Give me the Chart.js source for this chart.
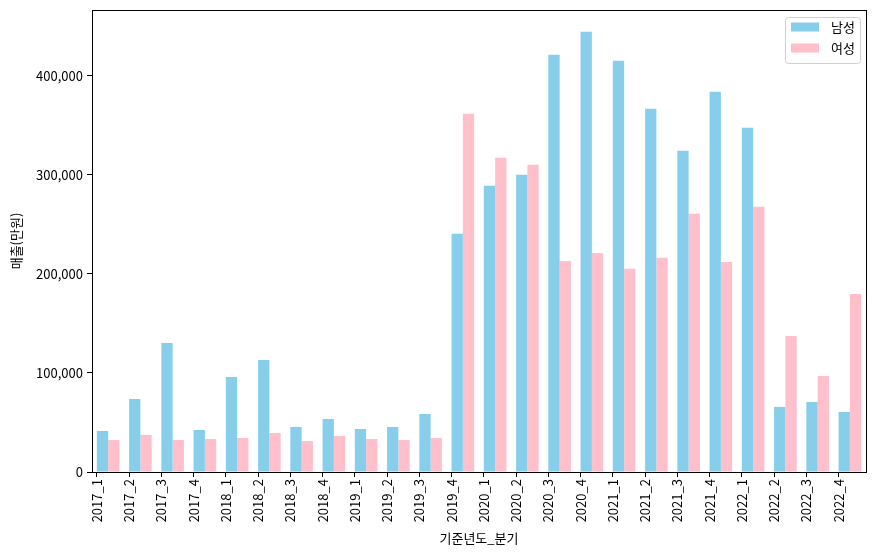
<!DOCTYPE html>
<html>
<head>
<meta charset="utf-8">
<script src="https://cdn.jsdelivr.net/npm/chart.js@4.4.0/dist/chart.umd.min.js"></script>
<style>
  html, body { margin: 0; padding: 0; background: #fff; }
  #wrap { width: 877px; height: 558px; position: relative; }
</style>
</head>
<body>
<div id="wrap"><canvas id="chart"></canvas></div>
<script>
// 기준년도_분기
const categories = [
  "2017_1", "2017_2", "2017_3", "2017_4",
  "2018_1", "2018_2", "2018_3", "2018_4",
  "2019_1", "2019_2", "2019_3", "2019_4",
  "2020_1", "2020_2", "2020_3", "2020_4",
  "2021_1", "2021_2", "2021_3", "2021_4",
  "2022_1", "2022_2", "2022_3", "2022_4"
];

// 매출(만원)
const maleSales = [
  41400, 73700, 130300, 42400,
  96000, 113100, 45500, 53500,
  43400, 45500, 58600, 240400,
  288900, 300000, 421200, 444400,
  415200, 366700, 324200, 383800,
  347500, 65700, 70700, 60600
];
const femaleSales = [
  32300, 37400, 32300, 33300,
  34300, 39400, 31300, 36400,
  33300, 32300, 34300, 361600,
  317200, 310100, 213100, 221200,
  205100, 216200, 260600, 212100,
  267700, 137400, 97000, 179800
];

const yTicks = [0, 100000, 200000, 300000, 400000];
const yMax = 466400;

const FONT = '"Noto Sans CJK KR", "Noto Sans", sans-serif';
Chart.defaults.font.family = FONT;
Chart.defaults.font.size = 13;
Chart.defaults.color = "#000";

// matplotlib 스타일 테두리 + 범례
const framePlugin = {
  id: "frame",
  afterDraw(chart) {
    const { ctx, chartArea: a } = chart;
    ctx.save();
    ctx.strokeStyle = "#000";
    ctx.lineWidth = 1;
    ctx.strokeRect(Math.round(a.left) + 0.5, Math.round(a.top) + 0.5,
                   Math.round(a.right - a.left), Math.round(a.bottom - a.top));

    // legend box (upper right)
    const sets = chart.data.datasets;
    const boxW = 75, rowH = 21, boxH = 12 + rowH * sets.length - 8;
    const x0 = a.right - 6 - boxW;
    const y0 = a.top + 7;
    ctx.beginPath();
    ctx.roundRect(x0 + 0.5, y0 + 0.5, boxW, boxH, 3);
    ctx.fillStyle = "rgba(255,255,255,0.8)";
    ctx.fill();
    ctx.strokeStyle = "#d0d0d0";
    ctx.stroke();
    ctx.font = "13px " + FONT;
    ctx.textBaseline = "middle";
    sets.forEach((ds, i) => {
      const cy = y0 + 10 + i * rowH;
      ctx.fillStyle = ds.backgroundColor;
      ctx.fillRect(x0 + 6, cy - 4.5, 28, 9);
      ctx.fillStyle = "#000";
      ctx.fillText(ds.label, x0 + 46, cy);
    });
    ctx.restore();
  }
};

new Chart(document.getElementById("chart"), {
  type: "bar",
  data: {
    labels: categories,
    datasets: [
      { label: "남성", data: maleSales, backgroundColor: "#87CEEB",
        categoryPercentage: 0.7, barPercentage: 1.0, xAxisID: "x" },
      { label: "여성", data: femaleSales, backgroundColor: "#FFC0CB",
        categoryPercentage: 0.7, barPercentage: 1.0, xAxisID: "x" }
    ]
  },
  options: {
    responsive: true,
    maintainAspectRatio: false,
    animation: false,
    layout: { padding: { left: 0, top: 10, right: 11, bottom: 0 } },
    plugins: {
      legend: { display: false },
      tooltip: { enabled: false }
    },
    scales: {
      x: {
        type: "category",
        display: false,
        offset: true
      },
      // tick labels sit at the left edge of the blue bar (matplotlib style)
      xLabels: {
        type: "linear",
        position: "bottom",
        offset: false,
        bounds: "data",
        min: -0.15,
        max: 23.85,
        afterBuildTicks(scale) {
          scale.ticks = categories.map((_, i) => ({ value: i }));
        },
        afterFit(scale) {
          scale.height = 86;
          scale.paddingLeft = 0;
          scale.paddingRight = 0;
        },
        ticks: {
          autoSkip: false,
          minRotation: 90,
          maxRotation: 90,
          padding: 2,
          callback: (v) => categories[v]
        },
        grid: { offset: false, drawOnChartArea: false, drawTicks: true, tickLength: 5, color: "#000" },
        border: { color: "#000" },
        title: { display: true, text: "기준년도_분기", font: { size: 13 },
                 padding: { top: 0, bottom: 12 } }
      },
      y: {
        min: 0,
        max: yMax,
        bounds: "data",
        afterBuildTicks(scale) {
          scale.ticks = yTicks.map((v) => ({ value: v }));
        },
        afterFit(scale) {
          scale.width = 92;
          scale.paddingTop = 0;
          scale.paddingBottom = 0;
        },
        ticks: {
          padding: 4,
          callback: (v) => v.toLocaleString("en-US")
        },
        grid: { drawOnChartArea: false, drawTicks: true, tickLength: 5, color: "#000" },
        border: { color: "#000" },
        title: { display: true, text: "매출(만원)", font: { size: 13 },
                 padding: { top: 8, bottom: 0 } }
      }
    }
  },
  plugins: [framePlugin]
});
</script>
</body>
</html>
